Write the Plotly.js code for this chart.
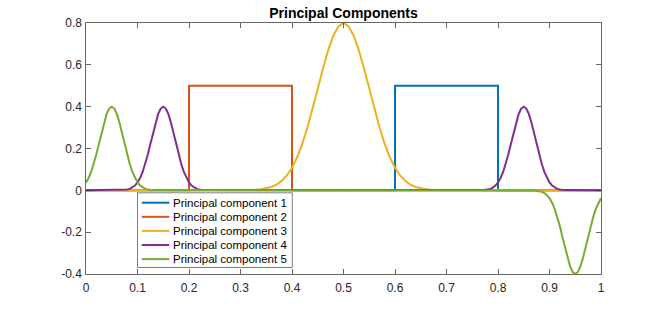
<!DOCTYPE html>
<html>
<head>
<meta charset="utf-8">
<script src="https://cdn.plot.ly/plotly-3.0.1.min.js"></script>
<style>html,body{margin:0;padding:0;background:#fff;}#chart{width:664px;height:309px;}</style>
</head>
<body>
<div id="chart"></div>
<script>
// ---- data ----
const seriesNames = ['Principal component 1','Principal component 2','Principal component 3','Principal component 4','Principal component 5'];
const seriesColors = ['#0072BD','#D95319','#EDB120','#7E2F8E','#77AC30'];

const pc1X = [0, 0.6, 0.6, 0.8, 0.8, 1];
const pc1Y = [0, 0, 0.5, 0.5, 0, 0];

const pc2X = [0, 0.2, 0.2, 0.4, 0.4, 1];
const pc2Y = [0, 0, 0.5, 0.5, 0, 0];

const pc3X = [0, 0.30,0.31,0.32,0.33,0.34,0.35,0.36,0.37,0.38,0.39,0.40,0.41,0.42,0.43,0.44,0.45,0.46,0.47,0.48,0.49,0.50,
              0.51,0.52,0.53,0.54,0.55,0.56,0.57,0.58,0.59,0.60,0.61,0.62,0.63,0.64,0.65,0.66,0.67,0.68,0.69,0.70, 1];
const pc3Y = [0, 0,0.001,0.001,0.0025,0.005,0.009,0.016,0.027,0.045,0.071,0.108,0.158,0.222,0.300,0.389,0.485,0.581,0.668,0.738,0.784,0.800,
              0.784,0.738,0.668,0.581,0.485,0.389,0.300,0.222,0.158,0.108,0.071,0.045,0.027,0.016,0.009,0.005,0.0025,0.001,0.001,0, 0];

const pc4X = [0,
  0.070,0.075,0.080,0.085,0.090,0.095,0.100,0.105,0.110,0.115,0.120,0.125,0.130,0.135,0.140,0.145,0.150,
  0.155,0.160,0.165,0.170,0.175,0.180,0.185,0.190,0.195,0.200,0.205,0.210,0.215,0.220,0.225,0.230,
  0.770,0.775,0.780,0.785,0.790,0.795,0.800,0.805,0.810,0.815,0.820,0.825,0.830,0.835,0.840,0.845,0.850,
  0.855,0.860,0.865,0.870,0.875,0.880,0.885,0.890,0.895,0.900,0.905,0.910,0.915,0.920,0.925,0.930,
  1];
const pc4Y = [0,
  0.001,0.002,0.004,0.007,0.013,0.023,0.038,0.059,0.088,0.126,0.171,0.222,0.274,0.323,0.364,0.391,0.400,
  0.391,0.364,0.323,0.274,0.222,0.171,0.126,0.088,0.059,0.038,0.023,0.013,0.007,0.004,0.002,0.001,
  0.001,0.002,0.004,0.007,0.013,0.023,0.038,0.059,0.088,0.126,0.171,0.222,0.274,0.323,0.364,0.391,0.400,
  0.391,0.364,0.323,0.274,0.222,0.171,0.126,0.088,0.059,0.038,0.023,0.013,0.007,0.004,0.002,0.001,
  0];

const pc5X = [
  0.000,0.005,0.010,0.015,0.020,0.025,0.030,0.035,0.040,0.045,0.050,0.055,0.060,0.065,0.070,0.075,0.080,
  0.085,0.090,0.095,0.100,0.105,0.110,0.115,0.120,0.125,0.130,
  0.870,0.875,0.880,0.885,0.890,0.895,0.900,0.905,0.910,0.915,0.920,0.925,0.930,0.935,0.940,0.945,0.950,
  0.955,0.960,0.965,0.970,0.975,0.980,0.985,0.990,0.995,1.000];
const pc5Y = [
  0.038,0.059,0.088,0.126,0.171,0.222,0.274,0.323,0.364,0.391,0.400,0.391,0.364,0.323,0.274,0.222,0.171,
  0.126,0.088,0.059,0.038,0.023,0.013,0.007,0.004,0.002,0.001,
  -0.001,-0.002,-0.004,-0.007,-0.013,-0.023,-0.038,-0.059,-0.088,-0.126,-0.171,-0.222,-0.274,-0.323,-0.364,-0.391,-0.400,
  -0.391,-0.364,-0.323,-0.274,-0.222,-0.171,-0.126,-0.088,-0.059,-0.038];

const xTickVals = [0,0.1,0.2,0.3,0.4,0.5,0.6,0.7,0.8,0.9,1];
const xTickText = ['0','0.1','0.2','0.3','0.4','0.5','0.6','0.7','0.8','0.9','1'];
const yTickVals = [-0.4,-0.2,0,0.2,0.4,0.6,0.8];
const yTickText = ['-0.4','-0.2','0','0.2','0.4','0.6','0.8'];

// ---- build ----
const xs = [pc1X,pc2X,pc3X,pc4X,pc5X];
const ys = [pc1Y,pc2Y,pc3Y,pc4Y,pc5Y];
const traces = xs.map((x,i)=>({
  type:'scatter', mode:'lines', x:x, y:ys[i], name:seriesNames[i],
  line:{color:seriesColors[i], width:2},
  showlegend:false, hoverinfo:'skip'
}));

const W=664, H=309;
const M={l:86, r:63, t:23, b:35};
const PW=W-M.l-M.r, PH=H-M.t-M.b;
const px2x = p => (p-M.l)/PW;
const px2y = p => (H-M.b-p)/PH;
const FONT = 'Liberation Sans, Arial, Helvetica, sans-serif';

// custom legend (MATLAB-like compact box)
const shapes = [];
const annotations = [];
const box = {x0:137.5, x1:292.3, y0:192.8, y1:267.5};
shapes.push({type:'rect', xref:'paper', yref:'paper',
  x0:px2x(box.x0), x1:px2x(box.x1), y0:px2y(box.y1), y1:px2y(box.y0),
  fillcolor:'#ffffff', line:{color:'#262626', width:0.6}, layer:'above'});
seriesNames.forEach((n,i)=>{
  const cy = 202.7 + i*14.1;
  shapes.push({type:'line', xref:'paper', yref:'paper',
    x0:px2x(141.7), x1:px2x(169.3), y0:px2y(cy), y1:px2y(cy),
    line:{color:seriesColors[i], width:2}, layer:'above'});
  annotations.push({xref:'paper', yref:'paper', x:px2x(170.5), y:px2y(cy),
    xanchor:'left', yanchor:'middle', showarrow:false, text:n,
    font:{family:FONT, size:11.5, color:'#000'}});
});

const axisCommon = {
  showgrid:false, zeroline:false, showline:true, mirror:'ticks',
  linecolor:'#262626', linewidth:0.7,
  ticks:'inside', ticklen:5, tickwidth:0.7, tickcolor:'#262626',
  tickfont:{family:FONT, size:12, color:'#262626'},
  tickmode:'array', fixedrange:true
};

const layout = {
  width:W, height:H, margin:M,
  paper_bgcolor:'#fff', plot_bgcolor:'#fff',
  title:{text:'<b>Principal Components</b>', font:{family:FONT, size:14, color:'#000'},
    x:0.5, xref:'paper', y:1-13.5/H, yref:'container', yanchor:'middle'},
  xaxis:Object.assign({}, axisCommon, {range:[0,1], tickvals:xTickVals, ticktext:xTickText, ticklabelstandoff:3}),
  yaxis:Object.assign({}, axisCommon, {range:[-0.4,0.8], tickvals:yTickVals, ticktext:yTickText, ticklabelstandoff:1}),
  shapes:shapes, annotations:annotations, showlegend:false
};

Plotly.newPlot('chart', traces, layout, {staticPlot:true, displayModeBar:false});
</script>
</body>
</html>
